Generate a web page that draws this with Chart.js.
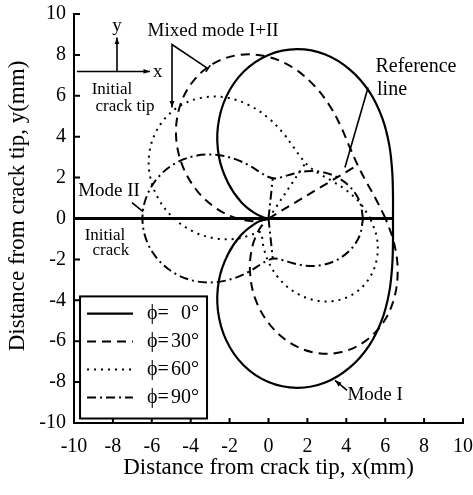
<!DOCTYPE html>
<html>
<head>
<meta charset="utf-8">
<script src="https://cdn.jsdelivr.net/npm/chart.js@4.4.0/dist/chart.umd.min.js"></script>
<style>
  html, body { margin: 0; padding: 0; background: #fff; }
  canvas { display: block; }
</style>
</head>
<body>
<canvas id="zoneChart" width="473" height="495"></canvas>
<script>
// Plastic zone boundaries around the crack tip (mm)

const tickValues = [-10, -8, -6, -4, -2, 0, 2, 4, 6, 8, 10];
const phiValues = [0, 30, 60, 90];

// phi = 0 deg (Mode I), solid
const mode1X = [6.40, 6.40, 6.36, 6.21, 5.85, 5.19, 4.20, 2.92, 1.46, 0, -1.27, -2.17, -2.60, -2.55, -2.09, -1.41, -0.71, -0.19, 0,
                -0.19, -0.71, -1.41, -2.09, -2.55, -2.60, -2.17, -1.27, 0, 1.46, 2.92, 4.20, 5.19, 5.85, 6.21, 6.36, 6.40, 6.40];
const mode1Y = [0, 1.13, 2.32, 3.59, 4.91, 6.19, 7.27, 8.02, 8.28, 8.00, 7.19, 5.96, 4.50, 3.03, 1.76, 0.81, 0.26, 0.03, 0,
                -0.03, -0.26, -0.81, -1.76, -3.03, -4.50, -5.96, -7.19, -8.00, -8.28, -8.02, -7.27, -6.19, -4.91, -3.59, -2.32, -1.13, 0];

// phi = 30 deg, dashed
const phi30X = [6.02, 5.51, 5.01, 4.57, 4.17, 3.74, 3.17, 2.36, 1.30, 0, -1.41, -2.77, -3.88, -4.57, -4.75, -4.41, -3.65, -2.65, -1.62,
                -0.77, -0.23, -0.07, -0.22, -0.55, -0.86, -0.95, -0.69, 0, 1.07, 2.39, 3.77, 5.01, 5.96, 6.50, 6.64, 6.44, 6.02];
const phi30Y = [0, 0.97, 1.82, 2.64, 3.50, 4.46, 5.48, 6.49, 7.35, 7.90, 8.01, 7.61, 6.71, 5.45, 3.99, 2.55, 1.33, 0.47, 0,
                -0.14, -0.08, -0.04, -0.19, -0.66, -1.49, -2.62, -3.90, -5.11, -6.06, -6.56, -6.53, -5.97, -5.00, -3.75, -2.42, -1.14, 0];

// phi = 60 deg, dotted
const phi60X = [5.24, 4.65, 3.93, 3.22, 2.61, 2.11, 1.70, 1.28, 0.74, 0, -0.98, -2.15, -3.41, -4.60, -5.53, -6.07, -6.12, -5.68, -4.86,
                -3.80, -2.70, -1.73, -1.01, -0.58, -0.39, -0.33, -0.25, 0, 0.51, 1.30, 2.30, 3.39, 4.39, 5.15, 5.56, 5.58, 5.24];
const phi60Y = [0, 0.82, 1.43, 1.86, 2.19, 2.52, 2.94, 3.50, 4.19, 4.91, 5.53, 5.91, 5.91, 5.48, 4.64, 3.50, 2.23, 1.00, 0,
                -0.67, -0.98, -1.00, -0.84, -0.69, -0.68, -0.92, -1.42, -2.12, -2.90, -3.57, -3.98, -4.03, -3.68, -2.97, -2.02, -0.98, 0];

// phi = 90 deg (Mode II), dash-dot
const mode2X = [4.86, 4.69, 4.21, 3.51, 2.71, 1.94, 1.27, 0.74, 0.35, 0, -0.40, -0.93, -1.67, -2.60, -3.67, -4.73, -5.64, -6.26, -6.48,
                -6.26, -5.64, -4.73, -3.67, -2.60, -1.67, -0.93, -0.40, 0, 0.35, 0.74, 1.27, 1.94, 2.71, 3.51, 4.21, 4.69, 4.86];
const mode2Y = [0, 0.83, 1.53, 2.03, 2.28, 2.31, 2.19, 2.04, 1.96, 2.03, 2.24, 2.56, 2.89, 3.10, 3.08, 2.73, 2.05, 1.10, 0,
                -1.10, -2.05, -2.73, -3.08, -3.10, -2.89, -2.56, -2.24, -2.03, -1.96, -2.04, -2.19, -2.31, -2.28, -2.03, -1.53, -0.83, 0];

// reference lines from the crack tip to the minimum radius
const ref30X = [0, 4.60], ref30Y = [0, 2.62];
const ref60X = [0, 1.90], ref60Y = [0, 2.71];
const ref90X = [0, 0.22], ref90UpY = [0, 1.97], ref90DownY = [0, -1.97];

// initial crack + x reference line
const crackX = [-10, 6.40], crackY = [0, 0];

const serif = '"Liberation Serif", "Times New Roman", serif';
const black = '#000';

const DASHED = [9, 6];
const DOTTED = [2, 5];
const DASHDOT = [9, 4, 2, 4];

function toPoints(xs, ys) {
    return xs.map((v, i) => ({ x: v, y: ys[i] }));
}

function curve(xs, ys, dash, width, legendIndex) {
    return {
        data: toPoints(xs, ys),
        showLine: true,
        borderColor: black,
        borderWidth: width,
        borderDash: dash,
        pointRadius: 0,
        tension: 0.35,
        fill: false,
        legendIndex: legendIndex
    };
}

const datasets = [
    curve(crackX, crackY, [], 3),
    curve(mode1X, mode1Y, [], 2.2, 0),
    curve(phi30X, phi30Y, DASHED, 2, 1),
    curve(phi60X, phi60Y, DOTTED, 2, 2),
    curve(mode2X, mode2Y, DASHDOT, 2, 3),
    curve(ref30X, ref30Y, DASHED, 2),
    curve(ref60X, ref60Y, DOTTED, 2),
    curve(ref90X, ref90UpY, DASHDOT, 2),
    curve(ref90X, ref90DownY, DASHDOT, 2)
];

// --- labels and pointers, placed in data units ---
const notes = [
    { text: 'Mixed mode I+II', x: -2.85, y: 9.19, size: 19 },
    { text: 'y', x: -7.79, y: 9.40, size: 19 },
    { text: 'x', x: -5.70, y: 7.14, size: 19 },
    { text: 'Initial', x: -8.05, y: 6.31, size: 17 },
    { text: 'crack tip', x: -7.38, y: 5.48, size: 17 },
    { text: 'Reference', x: 7.58, y: 7.43, size: 20 },
    { text: 'line', x: 6.35, y: 6.31, size: 20 },
    { text: 'Mode II', x: -8.20, y: 1.32, size: 19 },
    { text: 'Initial', x: -8.41, y: -0.83, size: 17 },
    { text: 'crack', x: -8.10, y: -1.56, size: 17 },
    { text: 'Mode I', x: 5.48, y: -8.61, size: 19 }
];

// polylines: [x0, y0, x1, y1, ...], arrow = arrowhead on the last point
const pointers = [
    { pts: [-7.79, 7.19, -7.79, 8.85], arrow: true },
    { pts: [-9.85, 7.19, -6.09, 7.19], arrow: true },
    { pts: [-3.11, 7.33, -4.96, 8.51, -4.96, 5.43], arrow: true, tee: true },
    { pts: [5.12, 6.41, 3.93, 2.49], arrow: false },
    { pts: [-7.02, 0.78, -6.45, 0.34], arrow: false },
    { pts: [4.04, -8.41, 3.42, -7.92], arrow: true }
];

// legend box in data units
const legendBox = { x0: -9.69, y0: -3.81, x1: -3.16, y1: -9.78 };
const legendRowsY = [-4.65, -6.01, -7.38, -8.75];
const legendLine = { x0: -9.33, x1: -6.97 };
const legendTextX = -6.25, legendNumX = -3.57;

function arrowHead(ctx, x1, y1, x2, y2, size) {
    const a = Math.atan2(y2 - y1, x2 - x1);
    ctx.beginPath();
    ctx.moveTo(x2, y2);
    ctx.lineTo(x2 - size * Math.cos(a - 0.35), y2 - size * Math.sin(a - 0.35));
    ctx.lineTo(x2 - size * Math.cos(a + 0.35), y2 - size * Math.sin(a + 0.35));
    ctx.closePath();
    ctx.fill();
}

const overlay = {
    id: 'overlay',
    afterDraw(chart) {
        const { ctx, chartArea: area, scales: { x, y } } = chart;
        const px = v => x.getPixelForValue(v);
        const py = v => y.getPixelForValue(v);

        ctx.save();
        ctx.strokeStyle = black;
        ctx.fillStyle = black;

        // inward tick marks
        ctx.lineWidth = 2;
        ctx.beginPath();
        tickValues.forEach(v => {
            ctx.moveTo(area.left, py(v));
            ctx.lineTo(area.left + 6, py(v));
            ctx.moveTo(px(v), area.bottom);
            ctx.lineTo(px(v), area.bottom - 5);
        });
        ctx.stroke();

        // y axis title (drawn by hand to sit where the original does)
        ctx.save();
        ctx.translate(18, 206);
        ctx.rotate(-Math.PI / 2);
        ctx.font = '23px ' + serif;
        ctx.textAlign = 'center';
        ctx.textBaseline = 'middle';
        ctx.fillText('Distance from crack tip, y(mm)', 0, 0);
        ctx.restore();

        // pointers
        ctx.lineWidth = 1.6;
        pointers.forEach(p => {
            const pts = [];
            for (let i = 0; i < p.pts.length; i += 2) pts.push([px(p.pts[i]), py(p.pts[i + 1])]);
            ctx.beginPath();
            pts.forEach((q, i) => (i ? ctx.lineTo(q[0], q[1]) : ctx.moveTo(q[0], q[1])));
            ctx.stroke();
            const n = pts.length;
            if (p.arrow) arrowHead(ctx, pts[n - 2][0], pts[n - 2][1], pts[n - 1][0], pts[n - 1][1], 7);
            if (p.tee) {
                // small cross bar at the start of the pointer
                const a = Math.atan2(pts[1][1] - pts[0][1], pts[1][0] - pts[0][0]) + Math.PI / 2;
                ctx.beginPath();
                ctx.moveTo(pts[0][0] - 4 * Math.cos(a), pts[0][1] - 4 * Math.sin(a));
                ctx.lineTo(pts[0][0] + 4 * Math.cos(a), pts[0][1] + 4 * Math.sin(a));
                ctx.stroke();
            }
        });

        // text notes
        ctx.textAlign = 'center';
        ctx.textBaseline = 'middle';
        notes.forEach(n => {
            ctx.font = n.size + 'px ' + serif;
            ctx.fillText(n.text, px(n.x), py(n.y));
        });

        // legend
        const bx0 = px(legendBox.x0), by0 = py(legendBox.y0);
        const bx1 = px(legendBox.x1), by1 = py(legendBox.y1);
        ctx.fillStyle = '#fff';
        ctx.fillRect(bx0, by0, bx1 - bx0, by1 - by0);
        ctx.fillStyle = black;
        ctx.lineWidth = 2;
        ctx.strokeRect(bx0, by0, bx1 - bx0, by1 - by0);

        ctx.font = '20px ' + serif;
        chart.data.datasets.filter(d => d.legendIndex !== undefined).forEach(d => {
            const i = d.legendIndex;
            const ry = py(legendRowsY[i]);
            ctx.save();
            ctx.lineWidth = d.borderWidth;
            ctx.setLineDash(d.borderDash);
            ctx.beginPath();
            ctx.moveTo(px(legendLine.x0), ry);
            ctx.lineTo(px(legendLine.x1), ry);
            ctx.stroke();
            ctx.restore();
            ctx.textAlign = 'left';
            ctx.fillText('\u03D5=', px(legendTextX), ry);
            ctx.textAlign = 'right';
            ctx.fillText(phiValues[i] + '\u00B0', px(legendNumX), ry);
        });

        ctx.restore();
    }
};

Chart.defaults.font.family = serif;
Chart.defaults.color = black;

// keep the plot box where the original has it: no extra label padding
function fixX(s) { s.height = 72; s.paddingLeft = 0; s.paddingRight = 0; }
function fixY(s) { s.width = 74; s.paddingTop = 0; s.paddingBottom = 0; }

new Chart(document.getElementById('zoneChart'), {
    type: 'scatter',
    data: { datasets: datasets },
    options: {
        responsive: false,
        animation: false,
        devicePixelRatio: 1,
        layout: { padding: { top: 14, right: 10, left: 0, bottom: 0 } },
        plugins: { legend: { display: false }, tooltip: { enabled: false } },
        scales: {
            x: {
                type: 'linear',
                min: -10,
                max: 10,
                afterBuildTicks: s => { s.ticks = tickValues.map(v => ({ value: v })); },
                afterFit: fixX,
                grid: { display: false, drawTicks: false },
                border: { display: true, color: black, width: 2 },
                ticks: { color: black, padding: 12, font: { size: 20 } },
                title: {
                    display: true,
                    text: 'Distance from crack tip, x(mm)',
                    color: black,
                    font: { size: 23 },
                    padding: { top: 0, bottom: 13 }
                }
            },
            y: {
                type: 'linear',
                min: -10,
                max: 10,
                afterBuildTicks: s => { s.ticks = tickValues.map(v => ({ value: v })); },
                afterFit: fixY,
                grid: { display: false, drawTicks: false },
                border: { display: true, color: black, width: 2 },
                ticks: { color: black, padding: 8, font: { size: 20 } }
            }
        }
    },
    plugins: [overlay]
});
</script>
</body>
</html>
